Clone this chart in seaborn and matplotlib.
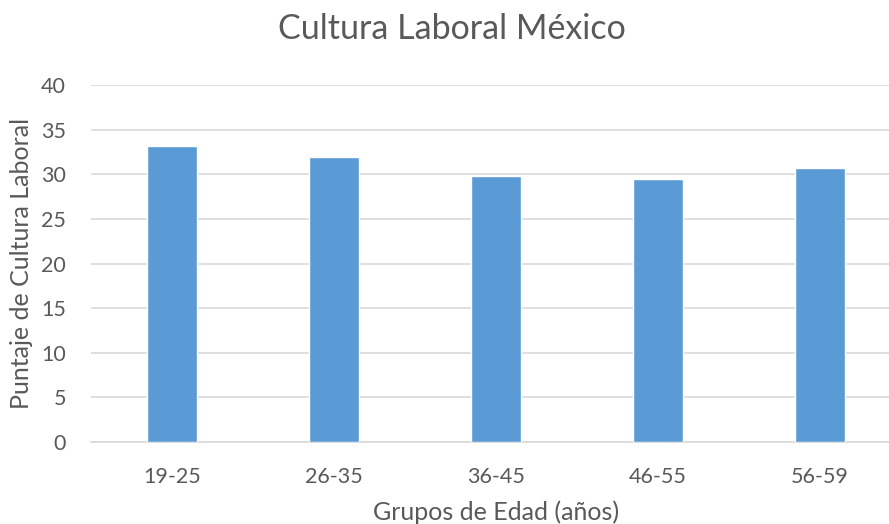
import matplotlib
matplotlib.use("Agg")
import matplotlib.pyplot as plt
import seaborn as sns
import pandas as pd

grupos = ["19-25", "26-35", "36-45", "46-55", "56-59"]
puntajes = [33.2, 31.9, 29.8, 29.5, 30.7]
y_ticks = [0, 5, 10, 15, 20, 25, 30, 35, 40]

df = pd.DataFrame({"grupo": grupos, "puntaje": puntajes})

sns.set_style("white")
plt.rcParams["font.family"] = ["Lato", "DejaVu Sans"]
txt = "#595959"

fig = plt.figure(figsize=(8.89, 5.24), dpi=100)
ax = fig.add_axes([0.1024, 0.1565, 0.911, 0.681])

sns.barplot(data=df, x="grupo", y="puntaje", color="#5B9BD5", width=0.31,
            saturation=1, ax=ax, zorder=3)

ax.set_ylim(0, 40)
ax.set_yticks(y_ticks)
ax.yaxis.grid(True, color="#D9D9D9", linewidth=1.2, zorder=0)
ax.set_axisbelow(True)
for s in ["top", "right", "left"]:
    ax.spines[s].set_visible(False)
ax.spines["bottom"].set_color("#D9D9D9")
ax.spines["bottom"].set_linewidth(1.2)
ax.tick_params(axis="both", length=0, labelsize=15.5, colors=txt)
ax.tick_params(axis="y", pad=18)
ax.tick_params(axis="x", pad=18)

ax.set_xlabel("Grupos de Edad (años)", fontsize=18, color=txt, labelpad=10)
ax.set_ylabel("Puntaje de Cultura Laboral", fontsize=18, color=txt, labelpad=6)
fig.suptitle("Cultura Laboral México", fontsize=24.5, color=txt, x=0.508, y=0.975)

fig.savefig("out.png", dpi=100)
